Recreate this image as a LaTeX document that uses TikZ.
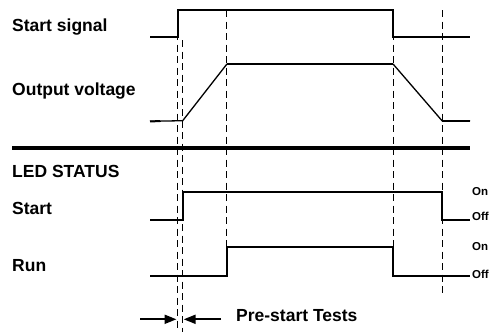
\documentclass[tikz,border=0pt]{standalone}
\usepackage{fontspec}
\setmainfont{Liberation Sans}
\usetikzlibrary{arrows.meta}
\begin{document}
\begin{tikzpicture}[x=1pt,y=-1pt,
  sig/.style={line width=2pt,line join=miter},
  ramp/.style={line width=1.3pt},
  guide/.style={line width=0.9pt,dash pattern=on 7pt off 4.5pt},
  lbl/.style={anchor=base west,inner sep=0pt,font=\fontsize{17.5}{19}\selectfont\bfseries},
  state/.style={anchor=base west,inner sep=0pt,font=\fontsize{11.5}{13}\selectfont\bfseries},
  marker/.style={line width=2pt,-{Triangle[length=12pt,width=9pt]}}]
\useasboundingbox (0,0) rectangle (496,332);
% guides
\draw[guide] (177.5,10) -- (177.5,332);
\draw[guide] (182.7,40) -- (182.7,332);
\draw[guide] (226.7,10) -- (226.7,247);
\draw[guide] (393.3,10) -- (393.3,247);
\draw[guide] (442,10) -- (442,294);
% start signal
\draw[sig] (150,36.7) -- (177.5,36.7) -- (177.5,10) -- (393.3,10) -- (393.3,36.7) -- (470,36.7);
% output voltage
\draw[ramp] (150,121.3) -- (182.7,120.7) -- (226.7,64.3) -- (393.3,64.3) -- (442,120.7) -- (470,120.7);
\draw[sig] (150,121.3) -- (160,121.2);
\draw[sig] (226.7,64.3) -- (393.3,64.3);
\draw[sig] (442,120.7) -- (470,120.7);
% separator
\draw[line width=4pt] (12,148.3) -- (470,148.3);
% LED start
\draw[sig] (150,220) -- (182.7,220) -- (182.7,191.7) -- (442,191.7) -- (442,220) -- (470,220);
% LED run
\draw[sig] (150,276) -- (226.7,276) -- (226.7,247) -- (393.3,247) -- (393.3,276) -- (470,276);
% labels
\node[lbl] (l1) at (12,31.7) {Start signal};
\node[lbl] (l2) at (12,95.3) {Output voltage};
\node[lbl] (l3) at (12,177.7) {LED STATUS};
\node[lbl] (l4) at (12,214.3) {Start};
\node[lbl] (l5) at (12,271) {Run};
\node[state] (s1) at (472,195) {On};
\node[state] (s2) at (472,220.7) {Off};
\node[state] (s3) at (472,250.7) {On};
\node[state] (s4) at (472,278) {Off};
\node[lbl] (pt) at (236,321.7) {Pre-start Tests};
% arrows
\coordinate (a1) at (140,319.3);
\coordinate (a1t) at (176.5,319.3);
\coordinate (a2) at (221,319.3);
\coordinate (a2t) at (183.7,319.3);
\draw[marker] (a1) -- (a1t);
\draw[marker] (a2) -- (a2t);
\end{tikzpicture}
\end{document}
